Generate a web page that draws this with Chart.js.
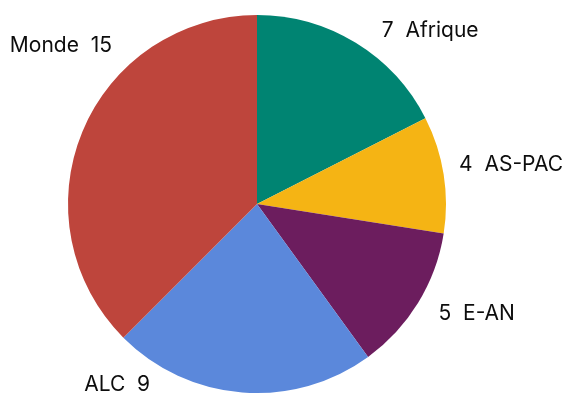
<!DOCTYPE html>
<html><head><meta charset="utf-8">
<script src="https://cdn.jsdelivr.net/npm/chart.js@4"></script>
<style>html,body{margin:0;padding:0;background:#fff}#wrap{width:570px;height:396px}</style>
</head><body><div id="wrap"><canvas id="c" width="570" height="396"></canvas></div>
<script>
const categories = ["Afrique", "AS-PAC", "E-AN", "ALC", "Monde"];
const values = [7, 4, 5, 9, 15];
const colors = ["#008472", "#F5B414", "#6C1D5E", "#5B88DB", "#BE453C"];
// label text: number first on the right side, name first on the left side
const labelTexts = ["7  Afrique", "4  AS-PAC", "5  E-AN", "ALC  9", "Monde  15"];
// label centre placement in polar form (degrees clockwise from top, multiple of radius)
const labelPlacement = [[45, 1.296], [81.3, 1.36], [116.6, 1.30], [217.7, 1.21], [309, 1.335]];

const labelPlugin = {
  id: 'outLabels',
  afterDatasetsDraw(chart) {
    const meta = chart.getDatasetMeta(0);
    const ctx = chart.ctx;
    const arc0 = meta.data[0];
    const cx = arc0.x, cy = arc0.y, r = arc0.outerRadius;
    ctx.save();
    ctx.font = '21px Inter';
    ctx.fillStyle = '#0d0d0d';
    ctx.textAlign = 'center';
    ctx.textBaseline = 'middle';
    labelTexts.forEach((t, i) => {
      const [a, k] = labelPlacement[i];
      const rad = a * Math.PI / 180;
      ctx.fillText(t, cx + Math.sin(rad) * r * k, cy - Math.cos(rad) * r * k);
    });
    ctx.restore();
  }
};

new Chart(document.getElementById('c'), {
  type: 'pie',
  data: { labels: categories, datasets: [{ data: values, backgroundColor: colors, borderWidth: 0 }] },
  options: {
    responsive: false,
    animation: false,
    layout: { padding: { left: 68, right: 124, top: 15, bottom: 3 } },
    plugins: { legend: { display: false }, tooltip: { enabled: false } }
  },
  plugins: [labelPlugin]
});
</script></body></html>
